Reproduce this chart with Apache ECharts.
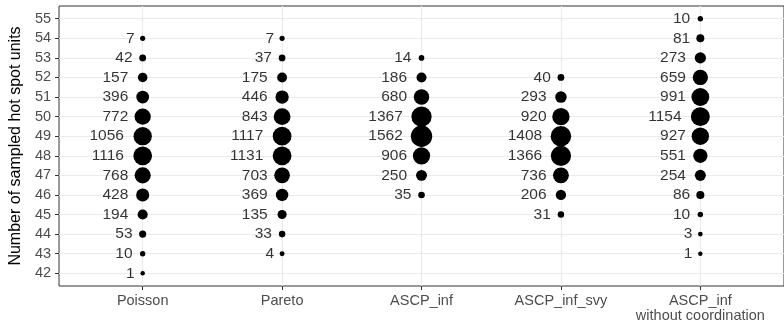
<!DOCTYPE html>
<html>
<head>
<meta charset="utf-8">
<script src="https://cdn.jsdelivr.net/npm/echarts@6/dist/echarts.min.js"></script>
<style>
  html, body { margin: 0; padding: 0; background: #fff; }
  #chart { width: 784px; height: 327px; }
</style>
</head>
<body>
<div id="chart"></div>
<script>
// methods on the x axis
var methods = ['Poisson', 'Pareto', 'ASCP_inf', 'ASCP_inf_svy', 'ASCP_inf\nwithout coordination'];
// y tick labels
var yTicks = [42, 43, 44, 45, 46, 47, 48, 49, 50, 51, 52, 53, 54, 55];

// counts per number of sampled units, listed from the top level down
var poissonTop = 54;
var poissonCounts = [7, 42, 157, 396, 772, 1056, 1116, 768, 428, 194, 53, 10, 1];
var paretoTop = 54;
var paretoCounts = [7, 37, 175, 446, 843, 1117, 1131, 703, 369, 135, 33, 4];
var ascpTop = 53;
var ascpCounts = [14, 186, 680, 1367, 1562, 906, 250, 35];
var ascpSvyTop = 52;
var ascpSvyCounts = [40, 293, 920, 1408, 1366, 736, 206, 31];
var noCoordTop = 55;
var noCoordCounts = [10, 81, 273, 659, 991, 1154, 927, 551, 254, 86, 10, 3, 1];

var columns = [
	[poissonTop, poissonCounts],
	[paretoTop, paretoCounts],
	[ascpTop, ascpCounts],
	[ascpSvyTop, ascpSvyCounts],
	[noCoordTop, noCoordCounts]
];

var points = [];
columns.forEach(function(col, i) {
	col[1].forEach(function(n, j) {
		points.push([i + 1, col[0] - j, n]);
	});
});

var FONT = 'Liberation Sans';
var LABEL_SIZE = 15.5;

// text sits left of the dot, further out for longer numbers (like hjust in ggplot)
var labelData = points.map(function(p) {
	var w = String(p[2]).length * 0.556 * LABEL_SIZE;
	return {
		value: p,
		label: { distance: Math.max(8, 1.5 + 0.5 * w) }
	};
});

var chart = echarts.init(document.getElementById('chart'));
var option = {
	animation: false,
	backgroundColor: '#fff',
	grid: {
		left: 57,
		top: 6,
		bottom: 41,
		right: -11,
		show: true,
		borderColor: '#333333',
		borderWidth: 1
	},
	xAxis: {
		type: 'value',
		min: 0.4,
		max: 5.6,
		axisLine: { show: false },
		axisTick: {
			show: true,
			customValues: [1, 2, 3, 4, 5],
			length: 4,
			lineStyle: { color: '#333333', width: 1 }
		},
		axisLabel: {
			customValues: [1, 2, 3, 4, 5],
			formatter: function(v) { return methods[Math.round(v) - 1]; },
			color: '#4D4D4D',
			fontFamily: FONT,
			fontSize: 14.5,
			lineHeight: 15,
			margin: 7,
			verticalAlign: 'top'
		},
		splitLine: { show: true, lineStyle: { color: '#EBEBEB', width: 1.2 } }
	},
	yAxis: {
		type: 'value',
		min: 41.35,
		max: 55.65,
		name: 'Number of sampled hot spot units',
		nameLocation: 'middle',
		nameGap: 29,
		nameTextStyle: { color: '#000', fontFamily: FONT, fontSize: 16 },
		axisLine: { show: false },
		axisTick: {
			show: true,
			customValues: yTicks,
			length: 4,
			lineStyle: { color: '#333333', width: 1 }
		},
		axisLabel: {
			customValues: yTicks,
			color: '#4D4D4D',
			fontFamily: FONT,
			fontSize: 14.5,
			margin: 8
		},
		splitLine: { show: true, lineStyle: { color: '#EBEBEB', width: 1.2 } }
	},
	series: [
		{
			type: 'scatter',
			data: points,
			symbol: 'circle',
			symbolSize: function(v) { return 4 + 0.44 * Math.sqrt(v[2]); },
			itemStyle: { color: '#000', opacity: 1 },
			silent: true
		},
		{
			type: 'scatter',
			data: labelData,
			symbolSize: 0,
			silent: true,
			label: {
				show: true,
				position: 'left',
				formatter: function(p) { return p.value[2]; },
				color: '#000',
				fontFamily: FONT,
				fontSize: LABEL_SIZE
			}
		}
	]
};
chart.setOption(option);
</script>
</body>
</html>
